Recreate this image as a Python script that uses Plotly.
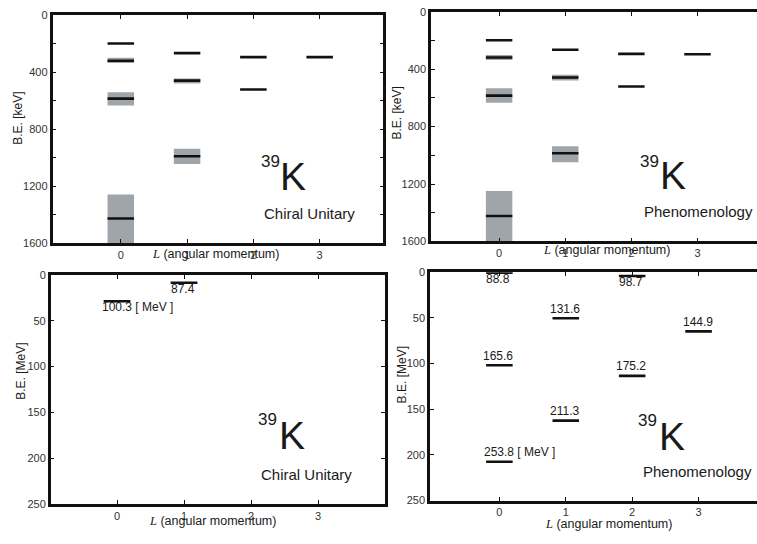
import plotly.graph_objects as go

W, H = 757, 544

# ---------------- data ----------------
L_ticks = [0, 1, 2, 3]
kev_ticks = [0, 200, 400, 600, 800, 1000, 1200, 1400, 1600]
kev_ticktext = ["0", "", "400", "", "800", "", "1200", "", "1600"]
mev_ticks = [0, 50, 100, 150, 200, 250]

# Top-left: Chiral Unitary (keV)
cu_kev_L = [0, 0, 0, 0, 1, 1, 1, 2, 2, 3]
cu_kev_E = [198, 319, 585, 1427, 266, 459, 990, 294, 521, 294]
cu_band_L = [0, 0, 0, 1, 1]
cu_band_lo = [299, 541, 1258, 443, 938]
cu_band_hi = [335, 633, 1600, 479, 1045]

# Top-right: Phenomenology (keV)
ph_kev_L = [0, 0, 0, 0, 1, 1, 1, 2, 2, 3]
ph_kev_E = [198, 318, 584, 1423, 264, 457, 986, 293, 520, 295]
ph_band_L = [0, 0, 0, 1, 1]
ph_band_lo = [300, 532, 1248, 438, 936]
ph_band_hi = [336, 634, 1600, 479, 1048]

# Bottom-left: Chiral Unitary (MeV)
cu_mev_L = [0, 1]
cu_mev_E = [28.8, 8.5]
cu_mev_lbl = ["100.3", "87.4"]
cu_mev_side = ["below", "below"]

# Bottom-right: Phenomenology (MeV)
ph_mev_L = [0, 2, 1, 3, 0, 2, 1, 0]
ph_mev_E = [0.5, 4, 50.3, 64.7, 101.8, 113.5, 162.5, 207.5]
ph_mev_lbl = ["88.8", "98.7", "131.6", "144.9", "165.6", "175.2", "211.3", "253.8"]
ph_mev_side = ["below", "below", "above", "above", "above", "above", "above", "above"]

# ---------------- layout helpers ----------------
def fx(p):
    return p / W

def fy(p):
    return 1 - p / H

BAR_HALF = 0.2
BAND_COLOR = "#a0a5aa"
FONT = "Liberation Sans, Arial, sans-serif"

fig = go.Figure()

def level_trace(Ls, Es, xa, ya):
    xs, ys = [], []
    for l, e in zip(Ls, Es):
        xs += [l - BAR_HALF, l + BAR_HALF, None]
        ys += [e, e, None]
    return go.Scatter(x=xs, y=ys, mode="lines", line=dict(color="#111111", width=2.6),
                      xaxis=xa, yaxis=ya, showlegend=False, hoverinfo="skip")

def band_trace(Ls, lo, hi, xa, ya):
    return go.Bar(x=Ls, y=[h - l for l, h in zip(lo, hi)], base=lo, width=0.4,
                  marker=dict(color=BAND_COLOR, line=dict(width=0)),
                  xaxis=xa, yaxis=ya, showlegend=False, hoverinfo="skip")

fig.add_trace(band_trace(cu_band_L, cu_band_lo, cu_band_hi, "x", "y"))
fig.add_trace(level_trace(cu_kev_L, cu_kev_E, "x", "y"))
fig.add_trace(band_trace(ph_band_L, ph_band_lo, ph_band_hi, "x2", "y2"))
fig.add_trace(level_trace(ph_kev_L, ph_kev_E, "x2", "y2"))
fig.add_trace(level_trace(cu_mev_L, cu_mev_E, "x3", "y3"))
fig.add_trace(level_trace(ph_mev_L, ph_mev_E, "x4", "y4"))

tickfont = dict(family=FONT, size=11, color="#333333")

def xaxis(domain, rng, anchor, mirror):
    return dict(domain=domain, range=rng, anchor=anchor, tickvals=L_ticks,
                ticks="inside", ticklen=4, tickwidth=1, tickcolor="#111",
                showline=True, linewidth=2.5, linecolor="#111", mirror=mirror,
                showgrid=False, zeroline=False, tickfont=tickfont)

def yaxis(domain, rng, anchor, mirror, tv, tt=None):
    d = dict(domain=domain, range=rng, anchor=anchor, tickvals=tv,
             ticks="inside", ticklen=4, tickwidth=1, tickcolor="#111",
             showline=True, linewidth=2.5, linecolor="#111", mirror=mirror,
             showgrid=False, zeroline=False, tickfont=tickfont)
    if tt is not None:
        d["ticktext"] = tt
    return d

fig.update_layout(
    width=W, height=H, margin=dict(l=0, r=0, t=0, b=0),
    paper_bgcolor="white", plot_bgcolor="white", barmode="overlay",
    font=dict(family=FONT, color="#222"),
    xaxis=xaxis([fx(52.5), fx(383.3)], [-1.03, 3.96], "y", "ticks"),
    yaxis=yaxis([fy(242.5), fy(9.5)], [1600, 0], "x", "ticks", kev_ticks, kev_ticktext),
    xaxis2=xaxis([fx(431), 1.0], [-1.03, 3.90], "y2", "ticks"),
    yaxis2=yaxis([fy(240.7), fy(6)], [1600, 0], "x2", False, kev_ticks, kev_ticktext),
    xaxis3=xaxis([fx(50.7), fx(385)], [-0.99, 4.0], "y3", "ticks"),
    yaxis3=yaxis([fy(509), fy(275)], [250, 0], "x3", "ticks", mev_ticks),
    xaxis4=xaxis([fx(430), 1.0], [-1.045, 3.88], "y4", "ticks"),
    yaxis4=yaxis([fy(505.7), fy(272.3)], [250, 0], "x4", False, mev_ticks),
)

ann = []

def txt(x, y, s, size, xanchor="center", angle=0, color="#1a1a1a"):
    ann.append(dict(x=fx(x), y=fy(y), xref="paper", yref="paper", text=s, showarrow=False,
                    xanchor=xanchor, yanchor="middle", textangle=angle,
                    font=dict(family=FONT, size=size, color=color)))

# 39K labels and model names
for kx, ky, sx, sy, name, nx, ny in [
    (293, 174, 270.5, 158.7, "Chiral Unitary", 309, 212),
    (673, 173.5, 649.5, 159, "Phenomenology", 698.5, 210),
    (291.7, 439, 267.5, 423, "Chiral Unitary", 306, 479),
    (671.7, 439.7, 647.8, 424, "Phenomenology", 697, 476),
]:
    txt(kx, ky, "K", 39)
    txt(sx, sy, "39", 17)
    txt(nx, ny, name, 15)

# axis titles
for x, y, s in [(18.3, 115, "B.E. [keV]"), (397, 110, "B.E. [keV]"),
                (21, 374, "B.E. [MeV]"), (401.7, 377, "B.E. [MeV]")]:
    txt(x, y, s, 12, angle=-90)

xt = '<span style="font-family:Liberation Serif, Times New Roman, serif"><i>L</i></span> (angular momentum)'
for x, y in [(215, 254), (606, 249.5), (212, 526.5), (608, 529.5)]:
    txt(x, y, xt, 12.5)

# level value labels (MeV panels)
def value_labels(Ls, Es, lbls, sides, xa, ya):
    for i, (l, e, s, side) in enumerate(zip(Ls, Es, lbls, sides)):
        shift = 6 if side == "below" else -9.5
        with_unit = (e == max(Es) and xa == "x4") or (xa == "x3" and i == 0)
        if with_unit:
            ann.append(dict(x=l, y=e, xref=xa, yref=ya, text=s + " [ MeV ]", showarrow=False,
                            xanchor="left", yanchor="middle", xshift=-17, yshift=-shift,
                            font=dict(family=FONT, size=12, color="#1a1a1a")))
        else:
            ann.append(dict(x=l, y=e, xref=xa, yref=ya, text=s, showarrow=False,
                            xanchor="center", yanchor="middle", xshift=-1, yshift=-shift,
                            font=dict(family=FONT, size=12, color="#1a1a1a")))

value_labels(cu_mev_L, cu_mev_E, cu_mev_lbl, cu_mev_side, "x3", "y3")
value_labels(ph_mev_L, ph_mev_E, ph_mev_lbl, ph_mev_side, "x4", "y4")

fig.update_layout(annotations=ann)
fig.write_html("out.html", config={"displayModeBar": False},
               post_script="document.body.style.margin='0';")
